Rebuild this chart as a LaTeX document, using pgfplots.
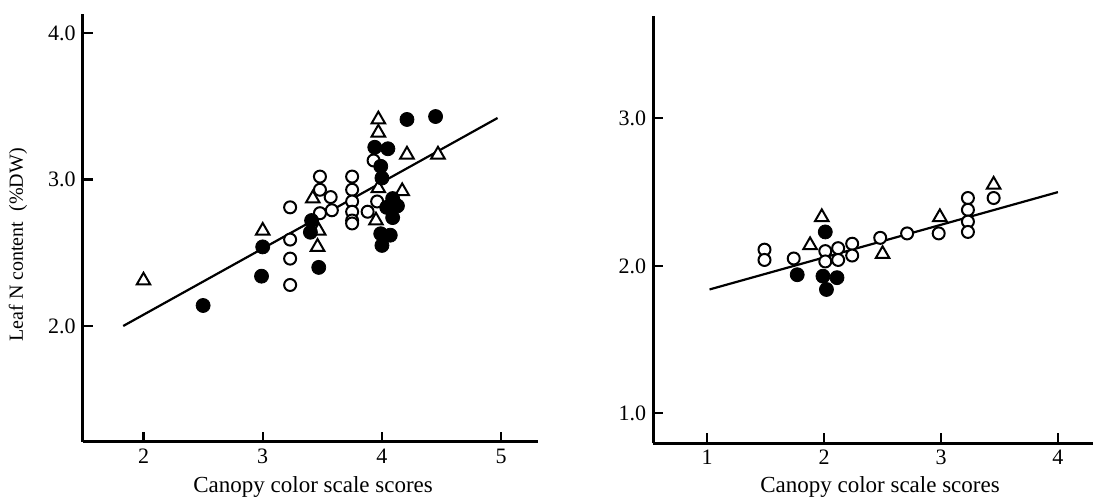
\documentclass[border=0pt]{standalone}
\usepackage{fontspec}
\setmainfont{Liberation Serif}
\usepackage{pgfplots}
\pgfplotsset{compat=1.18}

\pgfplotsset{
  panel/.style={
    scale only axis,
    anchor=south west,
    axis lines=left,
    axis line style={-, line width=1.3pt},
    tick align=inside,
    major tick length=5pt,
    tick style={line width=1.1pt, black},
    tick label style={font=\fontsize{11}{13}\selectfont},
    /pgf/number format/assume math mode=true,
    xlabel={Canopy color scale scores},
    xlabel style={font=\fontsize{11.5}{14}\selectfont, anchor=center},
    clip=false,
  },
  yfmt/.style={yticklabel style={/pgf/number format/.cd, fixed, fixed zerofill, precision=1}},
  openc/.style={only marks, mark=*, mark size=3.0pt,
    mark options={draw=black, fill=white, line width=1pt}},
  opent/.style={only marks, mark=triangle*, mark size=3.9pt,
    mark options={draw=black, fill=white, line width=1pt}},
  fullc/.style={only marks, mark=*, mark size=3.5pt,
    mark options={draw=black, fill=black, line width=0.4pt}},
  fitline/.style={no marks, line width=1.1pt, black},
}

\begin{document}
\begin{tikzpicture}
\path[use as bounding box] (0,0) rectangle (547.5pt,249pt);

% Left panel
\begin{axis}[panel, yfmt,
  at={(41.35pt,28.15pt)}, width=227.7pt, height=213.85pt,
  xmin=1.49, xmax=5.31, ymin=1.21, ymax=4.13,
  xtick={2,3,4,5}, ytick={2,3,4},
  xlabel style={at={(axis description cs:0.506,-0.106)}},
  ylabel={Leaf N content\ \ (\%DW)},
  ylabel style={font=\fontsize{10}{12}\selectfont, at={(axis description cs:-0.142,0.46)}, anchor=center},
]
\addplot[fitline] coordinates {(1.83,2.0) (4.97,3.42)};
\addplot[openc] coordinates {
  (3.23,2.81) (3.23,2.59) (3.23,2.46) (3.23,2.28)
  (3.48,3.02) (3.48,2.93) (3.57,2.88) (3.58,2.79) (3.48,2.77)
  (3.75,3.02) (3.75,2.93) (3.75,2.85) (3.75,2.78) (3.75,2.72) (3.75,2.70)
  (3.93,3.13) (3.96,2.85) (3.88,2.78)
};
\addplot[opent] coordinates {
  (2.0,2.31) (3.0,2.65) (3.42,2.87) (3.47,2.65) (3.46,2.54)
  (3.97,3.41) (3.97,3.32) (3.97,2.94) (3.95,2.72)
  (4.17,2.92) (4.21,3.17) (4.47,3.17)
};
\addplot[fullc] coordinates {
  (2.5,2.14) (2.99,2.34) (3.0,2.54) (3.41,2.72) (3.40,2.64) (3.47,2.40)
  (3.94,3.22) (4.05,3.21) (3.99,3.09) (4.0,3.01)
  (4.09,2.87) (4.04,2.81) (4.13,2.82) (4.09,2.74)
  (3.99,2.63) (4.07,2.62) (4.0,2.55) (4.21,3.41) (4.45,3.43)
};
\end{axis}

% Right panel
\begin{axis}[panel, yfmt,
  at={(326.65pt,27.35pt)}, width=219.85pt, height=213.65pt,
  xmin=0.539, xmax=4.30, ymin=0.797, ymax=3.694,
  xtick={1,2,3,4}, ytick={1,2,3},
  xlabel style={at={(axis description cs:0.5156,-0.102)}},
]
\addplot[fitline] coordinates {(1.02,1.84) (4.0,2.50)};
\addplot[openc] coordinates {
  (1.49,2.11) (1.49,2.04) (1.74,2.05) (2.01,2.10) (2.01,2.03)
  (2.12,2.12) (2.12,2.04) (2.24,2.15) (2.24,2.07) (2.48,2.19)
  (2.71,2.22) (2.98,2.22) (3.23,2.46) (3.23,2.38) (3.23,2.30)
  (3.23,2.23) (3.45,2.46)
};
\addplot[opent] coordinates {
  (1.88,2.14) (1.98,2.33) (2.50,2.08) (2.99,2.33) (3.45,2.55)
};
\addplot[fullc] coordinates {
  (1.77,1.94) (2.01,2.23) (1.99,1.93) (2.02,1.84) (2.11,1.92)
};
\end{axis}
\end{tikzpicture}
\end{document}
